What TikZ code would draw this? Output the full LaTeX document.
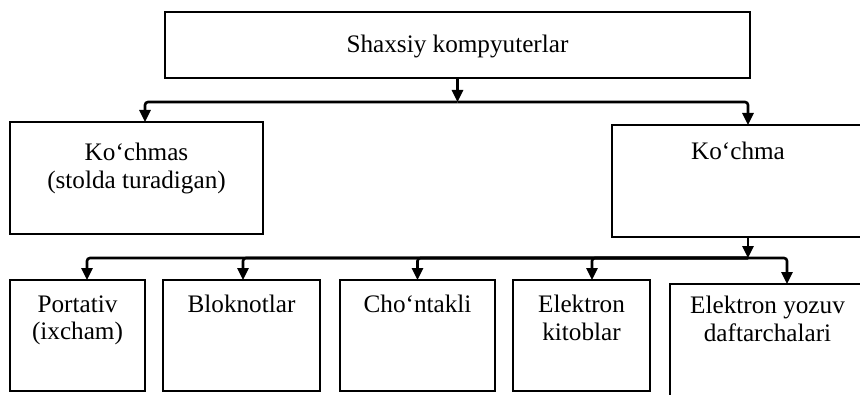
\documentclass[tikz,border=0pt]{standalone}
\usepackage{fontspec}
\setmainfont{Liberation Serif}
\usetikzlibrary{arrows.meta,positioning}

\begin{document}
\begin{tikzpicture}[x=0.5pt,y=-0.5pt,
                    boxND/.style={rectangle,
                                  draw=black,
                                  line width=1.4pt,
                                  anchor=north west,
                                  outer sep=0pt,
                                  inner sep=0pt,
                                  align=center},
                    txtND/.style={inner sep=0pt,
                                  align=center},
                    arrND/.style={line width=1.3pt,
                                  rounded corners=1.5pt,
                                  -{Triangle[length=6pt,width=5.5pt]}},
                    font=\fontsize{12.6}{13.6}\selectfont]
            \useasboundingbox (0,0) rectangle (860,395);
            \clip (0,0) rectangle (860,395);
            % boxes
            \node[boxND,minimum width=292.5pt,minimum height=33pt,text depth=1.5pt](SK) at (165,12) {Shaxsiy kompyuterlar};
            \node[boxND,minimum width=126.5pt,minimum height=56pt](KS) at (10,122)  {};
            \node[boxND,minimum width=132pt,minimum height=56pt]  (K)  at (612,125) {};
            \node[boxND,minimum width=67.5pt,minimum height=55.5pt](P) at (10,280)  {};
            \node[boxND,minimum width=78.5pt,minimum height=55.5pt](B) at (163,280) {};
            \node[boxND,minimum width=77.5pt,minimum height=55.5pt](C) at (340,280) {};
            \node[boxND,minimum width=68.5pt,minimum height=55.5pt](EK) at (513,280) {};
            \node[boxND,minimum width=103pt,minimum height=68pt]  (EY) at (670,284) {};
            % texts
            \node[txtND,below=10.5pt of KS.north](KSt) {Ko‘chmas\\(stolda turadigan)};
            \node[txtND,below=8.5pt of K.north,xshift=-3pt](Kt) {Ko‘chma};
            \node[txtND,below=7.5pt of P.north]  (Pt)  {Portativ\\(ixcham)};
            \node[txtND,below=7.5pt of B.north]  (Bt)  {Bloknotlar};
            \node[txtND,below=7.5pt of C.north]  (Ct)  {Cho‘ntakli};
            \node[txtND,below=7.5pt of EK.north] (EKt) {Elektron\\kitoblar};
            \node[txtND,below=6pt of EY.north,xshift=-2.75pt](EYt) {Elektron yozuv\\daftarchalari};
            % connectors
            \coordinate (bus1) at (457.5,102);
            \coordinate (bus2) at (748,258);
            \draw[arrND] (SK.south) -- (bus1);
            \draw[arrND] (bus1) -| ([xshift=4.25pt]KS.north);
            \draw[arrND] (bus1) -| ([xshift=2pt]K.north);
            \draw[arrND] ([xshift=2pt]K.south) -- (bus2);
            \foreach \n/\dx in {P/4.75,B/0.75,C/0,EK/5.25,EY/7}
                \draw[arrND] (bus2) -| ([xshift=\dx pt]\n.north);
        \end{tikzpicture}
\end{document}
